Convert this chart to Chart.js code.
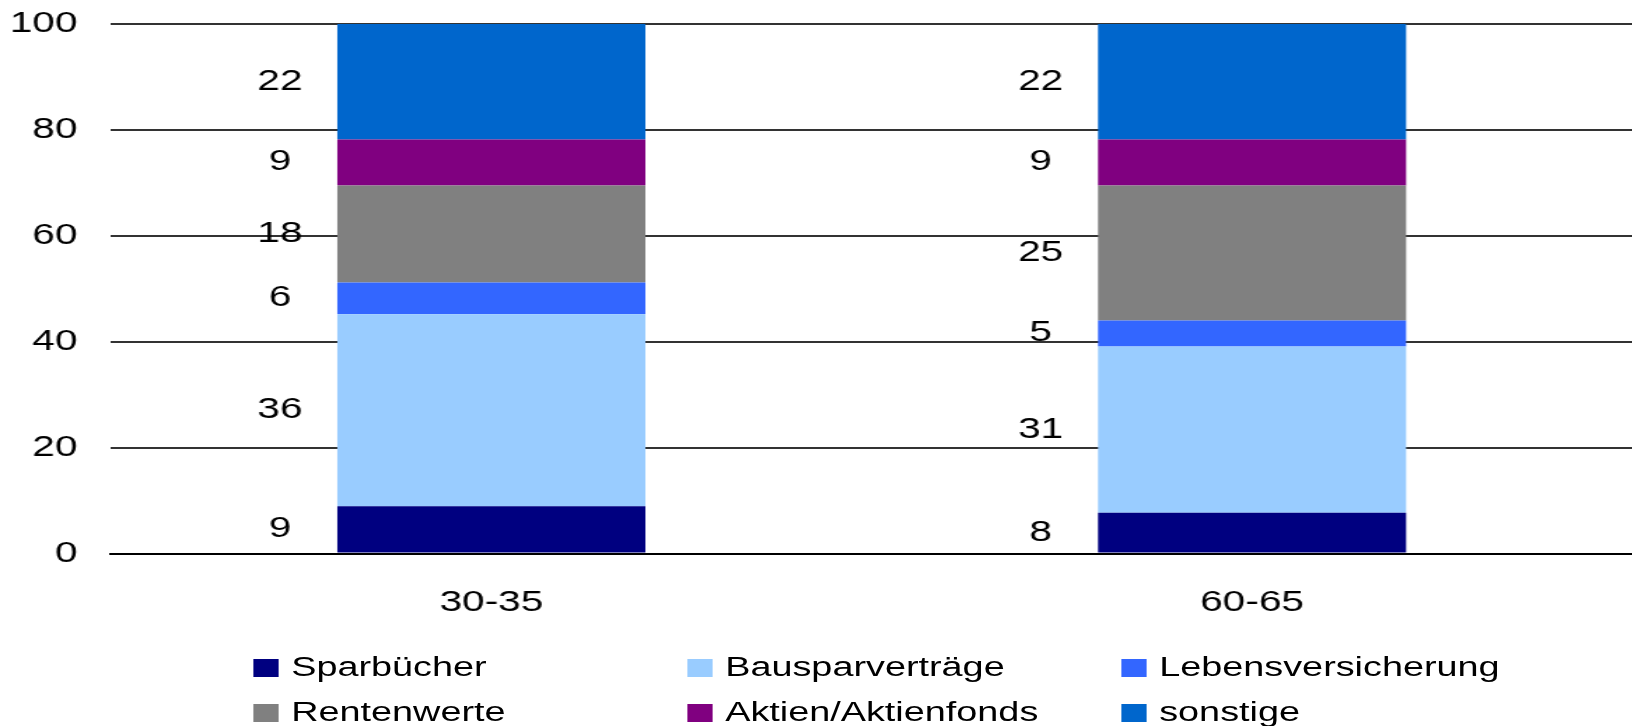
<!DOCTYPE html>
<html>
<head>
<meta charset="utf-8">
<script src="https://cdn.jsdelivr.net/npm/chart.js@4.4.1/dist/chart.umd.min.js"></script>
<style>
    html, body { margin: 0; padding: 0; background: #fff; overflow: hidden; }
    /* the original graphic is stretched sideways, so the whole stage is too */
    #stage { position: absolute; left: 0; top: 0; width: 1166px; height: 726px; transform: scaleX(1.4); transform-origin: 0 0; }
    #chartBox { position: absolute; left: 0; top: 0; width: 1166px; height: 726px; }
    #legend { position: absolute; left: 181px; top: 645px; display: grid; grid-template-columns: 310px 310px 310px;
              font-family: 'Liberation Sans', Arial, sans-serif; font-size: 27px; color: #000; }
    .item { display: flex; align-items: center; height: 45px; white-space: nowrap; }
    .swatch { width: 18px; height: 18px; margin-right: 9px; flex: none; }
</style>
</head>
<body>
<div id="stage">
    <div id="chartBox"><canvas id="stackChart"></canvas></div>
    <div id="legend"></div>
</div>
<script>
// Data
const categories = ['30-35', '60-65'];
const seriesNames = ['Sparbücher', 'Bausparverträge', 'Lebensversicherung', 'Rentenwerte', 'Aktien/Aktienfonds', 'sonstige'];
const seriesColors = ['#000080', '#99CCFF', '#3366FF', '#808080', '#800080', '#0066CC'];

const sparbuecher = [8.9, 7.7];
const bausparvertraege = [36.3, 31.4];
const lebensversicherung = [6.0, 4.9];
const rentenwerte = [18.3, 25.5];
const aktien = [8.7, 8.7];
const sonstige = [21.8, 21.8];

// numbers printed next to the bars
const sparbuecherLabels = [9, 8];
const bausparLabels = [36, 31];
const lebensLabels = [6, 5];
const rentenLabels = [18, 25];
const aktienLabels = [9, 9];
const sonstigeLabels = [22, 22];

const yTicks = [0, 20, 40, 60, 80, 100];

const seriesValues = [sparbuecher, bausparvertraege, lebensversicherung, rentenwerte, aktien, sonstige];
const seriesLabels = [sparbuecherLabels, bausparLabels, lebensLabels, rentenLabels, aktienLabels, sonstigeLabels];

const FONT = "'Liberation Sans', Arial, sans-serif";

// draws the value of each segment to the left of its bar
const sideLabels = {
    id: 'sideLabels',
    afterDatasetsDraw(chart) {
        const ctx = chart.ctx;
        ctx.save();
        ctx.font = `29px ${FONT}`;
        ctx.fillStyle = '#000';
        ctx.textAlign = 'center';
        ctx.textBaseline = 'middle';
        chart.data.datasets.forEach((ds, di) => {
            const meta = chart.getDatasetMeta(di);
            meta.data.forEach((bar, i) => {
                const x = bar.x - bar.width / 2 - 41;
                const y = (bar.y + bar.base) / 2;
                ctx.fillText(String(seriesLabels[di][i]), x, y);
            });
        });
        ctx.restore();
    }
};

function buildLegend() {
    const box = document.getElementById('legend');
    seriesNames.forEach((name, i) => {
        box.innerHTML += `<div class="item"><span class="swatch" style="background:${seriesColors[i]}"></span>${name}</div>`;
    });
}

function init() {
    buildLegend();
    const ctx = document.getElementById('stackChart').getContext('2d');
    new Chart(ctx, {
        type: 'bar',
        data: {
            labels: categories,
            datasets: seriesNames.map((name, i) => ({
                label: name,
                data: seriesValues[i],
                backgroundColor: seriesColors[i],
                borderWidth: 0,
                categoryPercentage: 1,
                barPercentage: 0.405
            }))
        },
        options: {
            responsive: true,
            maintainAspectRatio: false,
            animation: false,
            layout: { padding: { top: 24, left: 0, right: -5, bottom: 0 } },
            plugins: {
                legend: { display: false },
                tooltip: { enabled: false }
            },
            scales: {
                x: {
                    stacked: true,
                    grid: { display: false, drawTicks: false },
                    border: { display: true, color: '#000', width: 2 },
                    ticks: { color: '#000', padding: 32, font: { family: FONT, size: 29 } },
                    afterFit: (axis) => { axis.height = 172.5; }
                },
                y: {
                    stacked: true,
                    min: 0,
                    max: 100,
                    afterBuildTicks: (axis) => { axis.ticks = yTicks.map(v => ({ value: v })); },
                    afterFit: (axis) => { axis.width = 79.3; axis.paddingTop = 0; axis.paddingBottom = 0; },
                    grid: { color: '#333', lineWidth: 2, drawTicks: false },
                    border: { display: false },
                    ticks: { color: '#000', padding: 24, font: { family: FONT, size: 29 } }
                }
            }
        },
        plugins: [sideLabels]
    });
}

document.addEventListener('DOMContentLoaded', init);
</script>
</body>
</html>
